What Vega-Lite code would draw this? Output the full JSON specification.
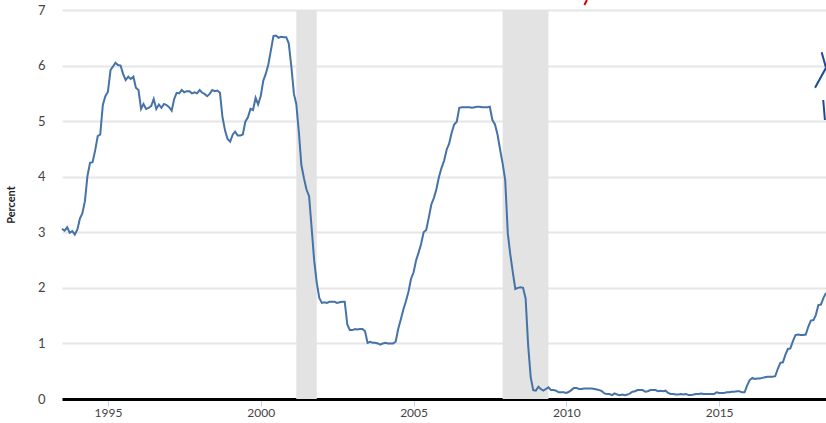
{
  "$schema": "https://vega.github.io/schema/vega-lite/v6.json",
  "autosize": "none",
  "width": 764,
  "height": 389,
  "padding": {"left": 62, "top": 10, "right": 0, "bottom": 24},
  "background": "white",
  "config": {
    "view": {"stroke": null},
    "axis": {"labelFont": "Lato", "titleFont": "Lato", "labelColor": "#444", "titleColor": "#222"}
  },
  "datasets": {
    "recessions": [
      {"start": "2001-03-01", "end": "2001-11-01"},
      {"start": "2007-12-01", "end": "2009-06-01"}
    ],
    "notes": [
      {"date": "2010-08-04", "value": 7.09, "piece": "red", "order": 1},
      {"date": "2010-09-04", "value": 7.18, "piece": "red", "order": 2},
      {"date": "2018-05-10", "value": 6.24, "piece": "blue1", "order": 1},
      {"date": "2018-07-01", "value": 5.96, "piece": "blue1", "order": 2},
      {"date": "2018-02-20", "value": 5.6, "piece": "blue1", "order": 3},
      {"date": "2018-05-29", "value": 5.38, "piece": "blue2", "order": 1},
      {"date": "2018-06-18", "value": 5.02, "piece": "blue2", "order": 2}
    ],
    "rates": [
      {"date":"1993-07-01","rate":3.06},{"date":"1993-08-01","rate":3.03},{"date":"1993-09-01","rate":3.09},{"date":"1993-10-01","rate":2.99},{"date":"1993-11-01","rate":3.02},{"date":"1993-12-01","rate":2.96},
      {"date":"1994-01-01","rate":3.05},{"date":"1994-02-01","rate":3.25},{"date":"1994-03-01","rate":3.34},{"date":"1994-04-01","rate":3.56},{"date":"1994-05-01","rate":4.01},{"date":"1994-06-01","rate":4.25},{"date":"1994-07-01","rate":4.26},{"date":"1994-08-01","rate":4.47},{"date":"1994-09-01","rate":4.73},{"date":"1994-10-01","rate":4.76},{"date":"1994-11-01","rate":5.29},{"date":"1994-12-01","rate":5.45},
      {"date":"1995-01-01","rate":5.53},{"date":"1995-02-01","rate":5.92},{"date":"1995-03-01","rate":5.98},{"date":"1995-04-01","rate":6.05},{"date":"1995-05-01","rate":6.01},{"date":"1995-06-01","rate":6.00},{"date":"1995-07-01","rate":5.85},{"date":"1995-08-01","rate":5.74},{"date":"1995-09-01","rate":5.80},{"date":"1995-10-01","rate":5.76},{"date":"1995-11-01","rate":5.80},{"date":"1995-12-01","rate":5.60},
      {"date":"1996-01-01","rate":5.56},{"date":"1996-02-01","rate":5.22},{"date":"1996-03-01","rate":5.31},{"date":"1996-04-01","rate":5.22},{"date":"1996-05-01","rate":5.24},{"date":"1996-06-01","rate":5.27},{"date":"1996-07-01","rate":5.40},{"date":"1996-08-01","rate":5.22},{"date":"1996-09-01","rate":5.30},{"date":"1996-10-01","rate":5.24},{"date":"1996-11-01","rate":5.31},{"date":"1996-12-01","rate":5.29},
      {"date":"1997-01-01","rate":5.25},{"date":"1997-02-01","rate":5.19},{"date":"1997-03-01","rate":5.39},{"date":"1997-04-01","rate":5.51},{"date":"1997-05-01","rate":5.50},{"date":"1997-06-01","rate":5.56},{"date":"1997-07-01","rate":5.52},{"date":"1997-08-01","rate":5.54},{"date":"1997-09-01","rate":5.54},{"date":"1997-10-01","rate":5.50},{"date":"1997-11-01","rate":5.52},{"date":"1997-12-01","rate":5.50},
      {"date":"1998-01-01","rate":5.56},{"date":"1998-02-01","rate":5.51},{"date":"1998-03-01","rate":5.49},{"date":"1998-04-01","rate":5.45},{"date":"1998-05-01","rate":5.49},{"date":"1998-06-01","rate":5.56},{"date":"1998-07-01","rate":5.54},{"date":"1998-08-01","rate":5.55},{"date":"1998-09-01","rate":5.51},{"date":"1998-10-01","rate":5.07},{"date":"1998-11-01","rate":4.83},{"date":"1998-12-01","rate":4.68},
      {"date":"1999-01-01","rate":4.63},{"date":"1999-02-01","rate":4.76},{"date":"1999-03-01","rate":4.81},{"date":"1999-04-01","rate":4.74},{"date":"1999-05-01","rate":4.74},{"date":"1999-06-01","rate":4.76},{"date":"1999-07-01","rate":4.99},{"date":"1999-08-01","rate":5.07},{"date":"1999-09-01","rate":5.22},{"date":"1999-10-01","rate":5.20},{"date":"1999-11-01","rate":5.42},{"date":"1999-12-01","rate":5.30},
      {"date":"2000-01-01","rate":5.45},{"date":"2000-02-01","rate":5.73},{"date":"2000-03-01","rate":5.85},{"date":"2000-04-01","rate":6.02},{"date":"2000-05-01","rate":6.27},{"date":"2000-06-01","rate":6.53},{"date":"2000-07-01","rate":6.54},{"date":"2000-08-01","rate":6.50},{"date":"2000-09-01","rate":6.52},{"date":"2000-10-01","rate":6.51},{"date":"2000-11-01","rate":6.51},{"date":"2000-12-01","rate":6.40},
      {"date":"2001-01-01","rate":5.98},{"date":"2001-02-01","rate":5.49},{"date":"2001-03-01","rate":5.31},{"date":"2001-04-01","rate":4.80},{"date":"2001-05-01","rate":4.21},{"date":"2001-06-01","rate":3.97},{"date":"2001-07-01","rate":3.77},{"date":"2001-08-01","rate":3.65},{"date":"2001-09-01","rate":3.07},{"date":"2001-10-01","rate":2.49},{"date":"2001-11-01","rate":2.09},{"date":"2001-12-01","rate":1.82},
      {"date":"2002-01-01","rate":1.73},{"date":"2002-02-01","rate":1.74},{"date":"2002-03-01","rate":1.73},{"date":"2002-04-01","rate":1.75},{"date":"2002-05-01","rate":1.75},{"date":"2002-06-01","rate":1.75},{"date":"2002-07-01","rate":1.73},{"date":"2002-08-01","rate":1.74},{"date":"2002-09-01","rate":1.75},{"date":"2002-10-01","rate":1.75},{"date":"2002-11-01","rate":1.34},{"date":"2002-12-01","rate":1.24},
      {"date":"2003-01-01","rate":1.24},{"date":"2003-02-01","rate":1.26},{"date":"2003-03-01","rate":1.25},{"date":"2003-04-01","rate":1.26},{"date":"2003-05-01","rate":1.26},{"date":"2003-06-01","rate":1.22},{"date":"2003-07-01","rate":1.01},{"date":"2003-08-01","rate":1.03},{"date":"2003-09-01","rate":1.01},{"date":"2003-10-01","rate":1.01},{"date":"2003-11-01","rate":1.00},{"date":"2003-12-01","rate":0.98},
      {"date":"2004-01-01","rate":1.00},{"date":"2004-02-01","rate":1.01},{"date":"2004-03-01","rate":1.00},{"date":"2004-04-01","rate":1.00},{"date":"2004-05-01","rate":1.00},{"date":"2004-06-01","rate":1.03},{"date":"2004-07-01","rate":1.26},{"date":"2004-08-01","rate":1.43},{"date":"2004-09-01","rate":1.61},{"date":"2004-10-01","rate":1.76},{"date":"2004-11-01","rate":1.93},{"date":"2004-12-01","rate":2.16},
      {"date":"2005-01-01","rate":2.28},{"date":"2005-02-01","rate":2.50},{"date":"2005-03-01","rate":2.63},{"date":"2005-04-01","rate":2.79},{"date":"2005-05-01","rate":3.00},{"date":"2005-06-01","rate":3.04},{"date":"2005-07-01","rate":3.26},{"date":"2005-08-01","rate":3.50},{"date":"2005-09-01","rate":3.62},{"date":"2005-10-01","rate":3.78},{"date":"2005-11-01","rate":4.00},{"date":"2005-12-01","rate":4.16},
      {"date":"2006-01-01","rate":4.29},{"date":"2006-02-01","rate":4.49},{"date":"2006-03-01","rate":4.59},{"date":"2006-04-01","rate":4.79},{"date":"2006-05-01","rate":4.94},{"date":"2006-06-01","rate":4.99},{"date":"2006-07-01","rate":5.24},{"date":"2006-08-01","rate":5.25},{"date":"2006-09-01","rate":5.25},{"date":"2006-10-01","rate":5.25},{"date":"2006-11-01","rate":5.25},{"date":"2006-12-01","rate":5.24},
      {"date":"2007-01-01","rate":5.25},{"date":"2007-02-01","rate":5.26},{"date":"2007-03-01","rate":5.26},{"date":"2007-04-01","rate":5.25},{"date":"2007-05-01","rate":5.25},{"date":"2007-06-01","rate":5.25},{"date":"2007-07-01","rate":5.26},{"date":"2007-08-01","rate":5.02},{"date":"2007-09-01","rate":4.94},{"date":"2007-10-01","rate":4.76},{"date":"2007-11-01","rate":4.49},{"date":"2007-12-01","rate":4.24},
      {"date":"2008-01-01","rate":3.94},{"date":"2008-02-01","rate":2.98},{"date":"2008-03-01","rate":2.61},{"date":"2008-04-01","rate":2.28},{"date":"2008-05-01","rate":1.98},{"date":"2008-06-01","rate":2.00},{"date":"2008-07-01","rate":2.01},{"date":"2008-08-01","rate":2.00},{"date":"2008-09-01","rate":1.81},{"date":"2008-10-01","rate":0.97},{"date":"2008-11-01","rate":0.39},{"date":"2008-12-01","rate":0.16},
      {"date":"2009-01-01","rate":0.15},{"date":"2009-02-01","rate":0.22},{"date":"2009-03-01","rate":0.18},{"date":"2009-04-01","rate":0.15},{"date":"2009-05-01","rate":0.18},{"date":"2009-06-01","rate":0.21},{"date":"2009-07-01","rate":0.16},{"date":"2009-08-01","rate":0.16},{"date":"2009-09-01","rate":0.15},{"date":"2009-10-01","rate":0.12},{"date":"2009-11-01","rate":0.12},{"date":"2009-12-01","rate":0.12},
      {"date":"2010-01-01","rate":0.11},{"date":"2010-02-01","rate":0.13},{"date":"2010-03-01","rate":0.16},{"date":"2010-04-01","rate":0.20},{"date":"2010-05-01","rate":0.20},{"date":"2010-06-01","rate":0.18},{"date":"2010-07-01","rate":0.18},{"date":"2010-08-01","rate":0.19},{"date":"2010-09-01","rate":0.19},{"date":"2010-10-01","rate":0.19},{"date":"2010-11-01","rate":0.19},{"date":"2010-12-01","rate":0.18},
      {"date":"2011-01-01","rate":0.17},{"date":"2011-02-01","rate":0.16},{"date":"2011-03-01","rate":0.14},{"date":"2011-04-01","rate":0.10},{"date":"2011-05-01","rate":0.09},{"date":"2011-06-01","rate":0.09},{"date":"2011-07-01","rate":0.07},{"date":"2011-08-01","rate":0.10},{"date":"2011-09-01","rate":0.08},{"date":"2011-10-01","rate":0.07},{"date":"2011-11-01","rate":0.08},{"date":"2011-12-01","rate":0.07},
      {"date":"2012-01-01","rate":0.08},{"date":"2012-02-01","rate":0.10},{"date":"2012-03-01","rate":0.13},{"date":"2012-04-01","rate":0.14},{"date":"2012-05-01","rate":0.16},{"date":"2012-06-01","rate":0.16},{"date":"2012-07-01","rate":0.16},{"date":"2012-08-01","rate":0.13},{"date":"2012-09-01","rate":0.14},{"date":"2012-10-01","rate":0.16},{"date":"2012-11-01","rate":0.16},{"date":"2012-12-01","rate":0.16},
      {"date":"2013-01-01","rate":0.14},{"date":"2013-02-01","rate":0.15},{"date":"2013-03-01","rate":0.14},{"date":"2013-04-01","rate":0.15},{"date":"2013-05-01","rate":0.11},{"date":"2013-06-01","rate":0.09},{"date":"2013-07-01","rate":0.09},{"date":"2013-08-01","rate":0.08},{"date":"2013-09-01","rate":0.08},{"date":"2013-10-01","rate":0.09},{"date":"2013-11-01","rate":0.08},{"date":"2013-12-01","rate":0.09},
      {"date":"2014-01-01","rate":0.07},{"date":"2014-02-01","rate":0.07},{"date":"2014-03-01","rate":0.08},{"date":"2014-04-01","rate":0.09},{"date":"2014-05-01","rate":0.09},{"date":"2014-06-01","rate":0.10},{"date":"2014-07-01","rate":0.09},{"date":"2014-08-01","rate":0.09},{"date":"2014-09-01","rate":0.09},{"date":"2014-10-01","rate":0.09},{"date":"2014-11-01","rate":0.09},{"date":"2014-12-01","rate":0.12},
      {"date":"2015-01-01","rate":0.11},{"date":"2015-02-01","rate":0.11},{"date":"2015-03-01","rate":0.11},{"date":"2015-04-01","rate":0.12},{"date":"2015-05-01","rate":0.12},{"date":"2015-06-01","rate":0.13},{"date":"2015-07-01","rate":0.13},{"date":"2015-08-01","rate":0.14},{"date":"2015-09-01","rate":0.14},{"date":"2015-10-01","rate":0.12},{"date":"2015-11-01","rate":0.12},{"date":"2015-12-01","rate":0.24},
      {"date":"2016-01-01","rate":0.34},{"date":"2016-02-01","rate":0.38},{"date":"2016-03-01","rate":0.36},{"date":"2016-04-01","rate":0.37},{"date":"2016-05-01","rate":0.37},{"date":"2016-06-01","rate":0.38},{"date":"2016-07-01","rate":0.39},{"date":"2016-08-01","rate":0.40},{"date":"2016-09-01","rate":0.40},{"date":"2016-10-01","rate":0.40},{"date":"2016-11-01","rate":0.41},{"date":"2016-12-01","rate":0.54},
      {"date":"2017-01-01","rate":0.65},{"date":"2017-02-01","rate":0.66},{"date":"2017-03-01","rate":0.79},{"date":"2017-04-01","rate":0.90},{"date":"2017-05-01","rate":0.91},{"date":"2017-06-01","rate":1.04},{"date":"2017-07-01","rate":1.15},{"date":"2017-08-01","rate":1.16},{"date":"2017-09-01","rate":1.15},{"date":"2017-10-01","rate":1.15},{"date":"2017-11-01","rate":1.16},{"date":"2017-12-01","rate":1.30},
      {"date":"2018-01-01","rate":1.41},{"date":"2018-02-01","rate":1.42},{"date":"2018-03-01","rate":1.51},{"date":"2018-04-01","rate":1.69},{"date":"2018-05-01","rate":1.70},{"date":"2018-06-01","rate":1.82},{"date":"2018-07-01","rate":1.91}
    ]
  },
  "layer": [
    {
      "data": {"name": "recessions"},
      "mark": {"type": "rect", "color": "#e3e3e3"},
      "encoding": {
        "x": {
          "field": "start", "type": "temporal",
          "scale": {"type": "utc", "domain": [{"year": 1993, "month": 7, "date": 1, "utc": true}, {"year": 2018, "month": 7, "date": 1, "utc": true}]},
          "axis": {
            "title": null,
            "values": [{"year": 1995, "utc": true}, {"year": 2000, "utc": true}, {"year": 2005, "utc": true}, {"year": 2010, "utc": true}, {"year": 2015, "utc": true}],
            "format": "%Y",
            "formatType": "utc",
            "domain": true, "domainColor": "#000000", "domainWidth": 3,
            "ticks": true, "tickColor": "#c3d3ea", "tickSize": 7, "tickWidth": 1,
            "labelFontSize": 12, "labelPadding": 1, "grid": false
          }
        },
        "x2": {"field": "end"}
      }
    },
    {
      "data": {"name": "rates"},
      "mark": {"type": "line", "color": "#4572a7", "strokeWidth": 2},
      "encoding": {
        "x": {"field": "date", "type": "temporal"},
        "y": {
          "field": "rate", "type": "quantitative",
          "scale": {"domain": [0, 7], "nice": false, "zero": true},
          "axis": {
            "title": "Percent", "titleFontSize": 11, "titleFontWeight": "bold", "titlePadding": 21,
            "values": [0, 1, 2, 3, 4, 5, 6, 7],
            "format": "d",
            "domain": false, "ticks": false,
            "labelFontSize": 13, "labelPadding": 17,
            "grid": true, "gridColor": "#e6e6e6", "gridWidth": 2
          }
        }
      }
    },
    {
      "data": {"name": "notes"},
      "mark": {"type": "line", "strokeWidth": 2, "clip": false},
      "encoding": {
        "x": {"field": "date", "type": "temporal"},
        "y": {"field": "value", "type": "quantitative"},
        "detail": {"field": "piece"},
        "order": {"field": "order"},
        "color": {"field": "piece", "type": "nominal", "scale": {"domain": ["red", "blue1", "blue2"], "range": ["#d40000", "#1a4a9a", "#1a4a9a"]}, "legend": null}
      }
    }
  ]
}
